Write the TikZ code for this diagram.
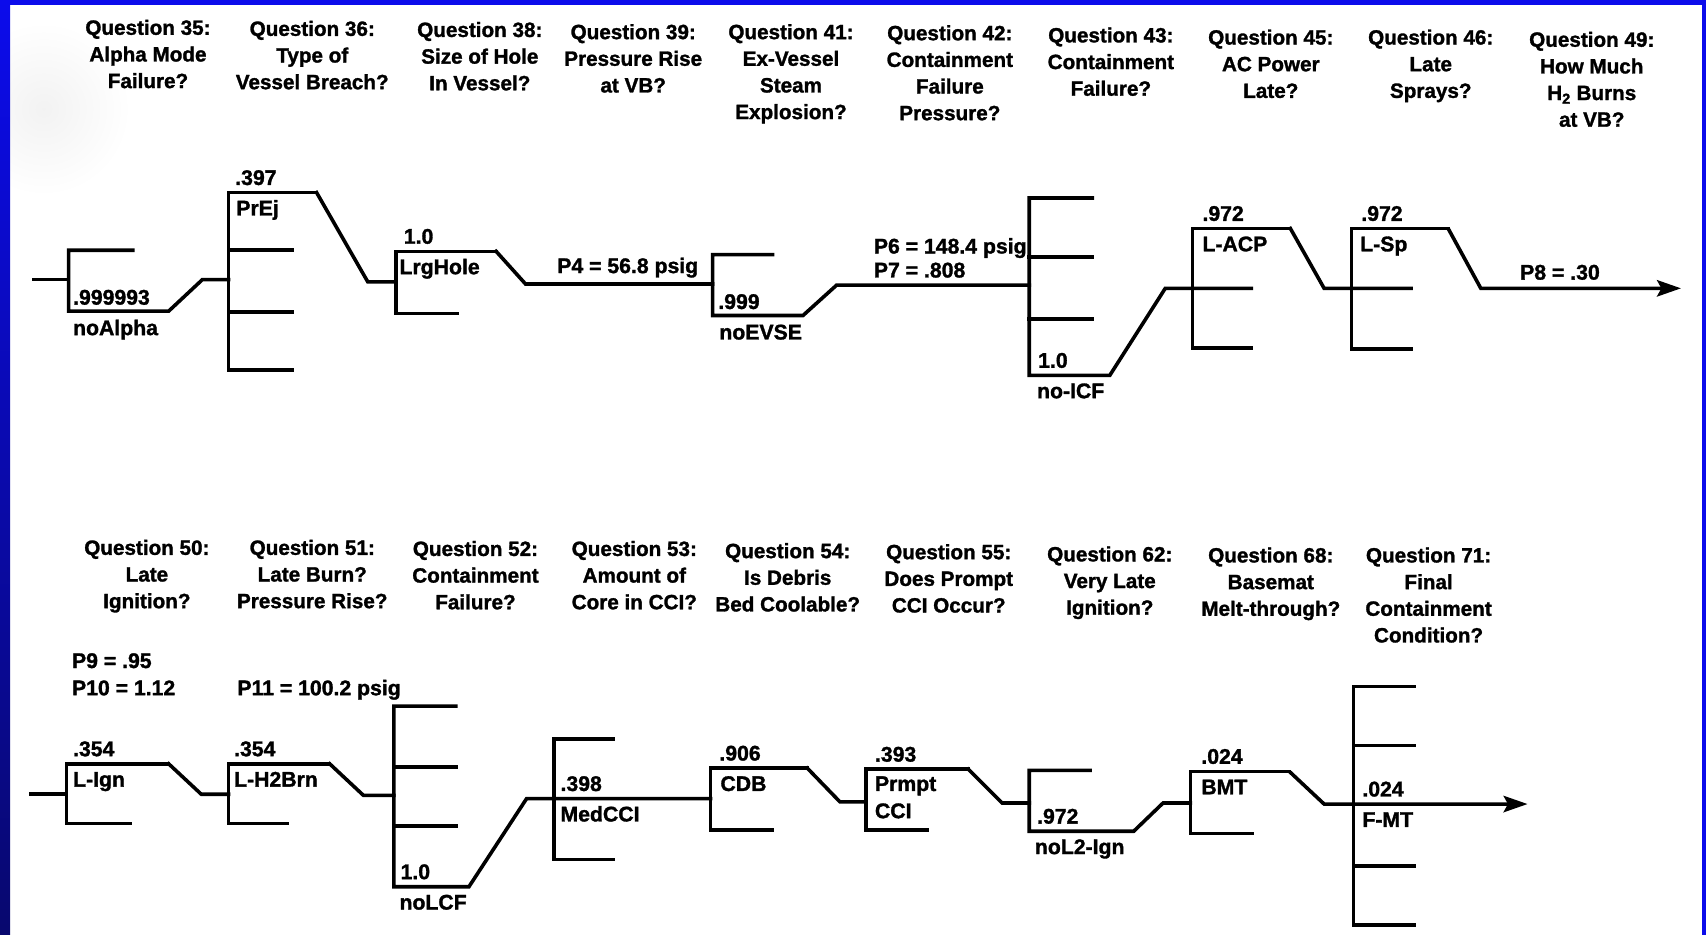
\documentclass[tikz,border=0pt]{standalone}
\usepackage{fontspec}
\setmainfont{Liberation Sans}[BoldFeatures={FakeBold=1.4}]
\usetikzlibrary{arrows.meta}
\definecolor{frameblue}{RGB}{12,12,235}
\definecolor{framenavy}{RGB}{8,8,110}
\begin{document}
\begin{tikzpicture}[x=1pt,y=-1pt,
  tl/.style={line width=3.3pt, line cap=rect, line join=miter},
  arr/.style={line width=3.3pt, line join=miter, -{Stealth[length=22pt,width=15pt,inset=4pt]}},
  hdr/.style={font=\bfseries\fontsize{19}{24.5}\selectfont, align=center, anchor=north, inner sep=0pt},
  lbl/.style={font=\bfseries\fontsize{19.5}{24}\selectfont, anchor=base west, inner sep=0pt}]

\useasboundingbox (0,0) rectangle (1568,859);
\fill[white] (0,0) rectangle (1568,859);
\shade[inner color=black!5, outer color=white] (40,100) circle (80);
\shade[top color=frameblue, bottom color=framenavy] (0,0) rectangle (9.2,859);
\fill[frameblue] (0,0) rectangle (1568,4.8);
\fill[frameblue] (1564,0) rectangle (1568,859);

% ---------------- top row headers
\node[hdr] (h35) at (136,18) {Question 35:\\Alpha Mode\\Failure?};
\node[hdr] (h36) at (287,19) {Question 36:\\Type of\\Vessel Breach?};
\node[hdr] (h38) at (441,20) {Question 38:\\Size of Hole\\In Vessel?};
\node[hdr] (h39) at (582,22) {Question 39:\\Pressure Rise\\at VB?};
\node[hdr] (h41) at (727,22) {Question 41:\\Ex-Vessel\\Steam\\Explosion?};
\node[hdr] (h42) at (873,23) {Question 42:\\Containment\\Failure\\Pressure?};
\node[hdr] (h43) at (1021,25) {Question 43:\\Containment\\Failure?};
\node[hdr] (h45) at (1168,27) {Question 45:\\AC Power\\Late?};
\node[hdr] (h46) at (1315,27) {Question 46:\\Late\\Sprays?};
\node[hdr] (h49) at (1463,29) {Question 49:\\How Much\\H\textsubscript{2} Burns\\at VB?};

% ---------------- top row coordinates
\coordinate (t0) at (31,257);
\coordinate (q35m) at (63,257);
\coordinate (q35t) at (63,230);
\coordinate (q35b) at (63,286);
\coordinate (q35te) at (122,230);
\coordinate (q35be) at (155,286);
\coordinate (k35) at (186,257);
\coordinate (q36m) at (210,257);
\coordinate (q36t) at (210,177);
\coordinate (q36b) at (210,340);
\coordinate (q36k2) at (210,230);
\coordinate (q36k3) at (210,287);
\coordinate (q36te) at (291,177);
\coordinate (q36e2) at (269,230);
\coordinate (q36e3) at (269,287);
\coordinate (q36be) at (269,340);
\coordinate (k36) at (338,259);
\coordinate (q38m) at (364,259);
\coordinate (q38t) at (364,231);
\coordinate (q38b) at (364,288);
\coordinate (q38te) at (456,231);
\coordinate (q38be) at (420,288);
\coordinate (k38) at (483,261);
\coordinate (q41m) at (655,261);
\coordinate (q41t) at (655,234);
\coordinate (q41b) at (655,290);
\coordinate (q41te) at (710,234);
\coordinate (q41be) at (738,290);
\coordinate (k41) at (769,262);
\coordinate (q43m) at (946,262);
\coordinate (q43t) at (946,182);
\coordinate (q43b) at (946,345);
\coordinate (q43k2) at (946,236);
\coordinate (q43k3) at (946,293);
\coordinate (q43te) at (1004,182);
\coordinate (q43e2) at (1004,236);
\coordinate (q43e3) at (1004,293);
\coordinate (q43be) at (1020,345);
\coordinate (k43) at (1071,265);
\coordinate (q45t) at (1096,210);
\coordinate (q45b) at (1096,320);
\coordinate (q45te) at (1186,210);
\coordinate (q45me) at (1150,265);
\coordinate (q45be) at (1150,320);
\coordinate (k45) at (1217,265);
\coordinate (q46t) at (1242,210);
\coordinate (q46b) at (1242,321);
\coordinate (q46te) at (1331,210);
\coordinate (q46me) at (1297,265);
\coordinate (q46be) at (1297,321);
\coordinate (k46) at (1361,265);
\coordinate (tend) at (1545,265);

% ---------------- top row lines
\draw[tl] (t0) -- (q35m);
\draw[tl] (q35te) -- (q35t) -- (q35b) -- (q35be) -- (k35) -- (q36m);
\draw[tl] (q36te) -- (q36t) -- (q36b) -- (q36be);
\draw[tl] (q36k2) -- (q36e2);
\draw[tl] (q36k3) -- (q36e3);
\draw[tl] (q36te) -- (k36) -- (q38m);
\draw[tl] (q38te) -- (q38t) -- (q38b) -- (q38be);
\draw[tl] (q38te) -- (k38) -- (q41m);
\draw[tl] (q41te) -- (q41t) -- (q41b) -- (q41be) -- (k41) -- (q43m);
\draw[tl] (q43te) -- (q43t) -- (q43b) -- (q43be) -- (k43) -- (q45me);
\draw[tl] (q43k2) -- (q43e2);
\draw[tl] (q43k3) -- (q43e3);
\draw[tl] (q45te) -- (q45t) -- (q45b) -- (q45be);
\draw[tl] (q45te) -- (k45) -- (q46me);
\draw[tl] (q46te) -- (q46t) -- (q46b) -- (q46be);
\draw[arr] (q46te) -- (k46) -- (tend);

% ---------------- top row labels
\node[lbl] (l397) at (216,170) {.397};
\node[lbl] (lPrEj) at (217,198) {PrEj};
\node[lbl] (l10a) at (371,224) {1.0};
\node[lbl] (lLrg) at (367,252) {LrgHole};
\node[lbl] (l999993) at (67,280) {.999993};
\node[lbl] (lnoA) at (67,308) {noAlpha};
\node[lbl] (lP4) at (512,251) {P4 = 56.8 psig};
\node[lbl] (l999) at (660,284) {.999};
\node[lbl] (lnoE) at (661,312) {noEVSE};
\node[lbl] (lP6) at (803,233) {P6 = 148.4 psig};
\node[lbl] (lP7) at (803,255) {P7 = .808};
\node[lbl] (l10b) at (954,338) {1.0};
\node[lbl] (lnoI) at (953,366) {no-ICF};
\node[lbl] (l972a) at (1105,203) {.972};
\node[lbl] (lLACP) at (1105,231) {L-ACP};
\node[lbl] (l972b) at (1251,203) {.972};
\node[lbl] (lLSp) at (1250,231) {L-Sp};
\node[lbl] (lP8) at (1397,257) {P8 = .30};

% ---------------- bottom row headers
\node[hdr] (h50) at (135,496) {Question 50:\\Late\\Ignition?};
\node[hdr] (h51) at (287,496) {Question 51:\\Late Burn?\\Pressure Rise?};
\node[hdr] (h52) at (437,497) {Question 52:\\Containment\\Failure?};
\node[hdr] (h53) at (583,497) {Question 53:\\Amount of\\Core in CCI?};
\node[hdr] (h54) at (724,499) {Question 54:\\Is Debris\\Bed Coolable?};
\node[hdr] (h55) at (872,500) {Question 55:\\Does Prompt\\CCI Occur?};
\node[hdr] (h62) at (1020,502) {Question 62:\\Very Late\\Ignition?};
\node[hdr] (h68) at (1168,503) {Question 68:\\Basemat\\Melt-through?};
\node[hdr] (h71) at (1313,503) {Question 71:\\Final\\Containment\\Condition?};

% ---------------- bottom row coordinates
\coordinate (b0) at (28,730);
\coordinate (q50m) at (61,730);
\coordinate (q50t) at (61,702);
\coordinate (q50b) at (61,757);
\coordinate (q50te) at (155,702);
\coordinate (q50be) at (120,757);
\coordinate (k50) at (185,730);
\coordinate (q51m) at (210,730);
\coordinate (q51t) at (210,702);
\coordinate (q51b) at (210,757);
\coordinate (q51te) at (303,702);
\coordinate (q51be) at (264,757);
\coordinate (k51) at (334,731);
\coordinate (q52m) at (362,731);
\coordinate (q52t) at (362,649);
\coordinate (q52b) at (362,815);
\coordinate (q52k2) at (362,705);
\coordinate (q52k3) at (362,759);
\coordinate (q52te) at (419,649);
\coordinate (q52e2) at (419,705);
\coordinate (q52e3) at (419,759);
\coordinate (q52be) at (431,815);
\coordinate (k52) at (484,734);
\coordinate (q53t) at (509,679);
\coordinate (q53b) at (509,790);
\coordinate (q53te) at (564,679);
\coordinate (q53be) at (564,790);
\coordinate (q54m) at (653,734);
\coordinate (q54t) at (653,706);
\coordinate (q54b) at (653,763);
\coordinate (q54te) at (742,706);
\coordinate (q54be) at (710,763);
\coordinate (k54) at (772,737);
\coordinate (q55m) at (796,737);
\coordinate (q55t) at (796,707);
\coordinate (q55b) at (796,763);
\coordinate (q55te) at (890,707);
\coordinate (q55be) at (852,763);
\coordinate (k55) at (921,738);
\coordinate (q62m) at (946,738);
\coordinate (q62t) at (946,708);
\coordinate (q62b) at (946,764);
\coordinate (q62te) at (1002,708);
\coordinate (q62be) at (1042,764);
\coordinate (k62) at (1069,738);
\coordinate (q68m) at (1094,738);
\coordinate (q68t) at (1094,709);
\coordinate (q68b) at (1094,766);
\coordinate (q68te) at (1185,709);
\coordinate (q68be) at (1151,766);
\coordinate (k68) at (1217,739);
\coordinate (q71t) at (1244,631);
\coordinate (q71b) at (1244,850);
\coordinate (q71k2) at (1244,685);
\coordinate (q71k4) at (1244,796);
\coordinate (q71te) at (1300,631);
\coordinate (q71e2) at (1300,685);
\coordinate (q71e4) at (1300,796);
\coordinate (q71be) at (1300,850);
\coordinate (bend) at (1404,739);

% ---------------- bottom row lines
\draw[tl] (b0) -- (q50m);
\draw[tl] (q50te) -- (q50t) -- (q50b) -- (q50be);
\draw[tl] (q50te) -- (k50) -- (q51m);
\draw[tl] (q51te) -- (q51t) -- (q51b) -- (q51be);
\draw[tl] (q51te) -- (k51) -- (q52m);
\draw[tl] (q52te) -- (q52t) -- (q52b) -- (q52be) -- (k52) -- (q54m);
\draw[tl] (q52k2) -- (q52e2);
\draw[tl] (q52k3) -- (q52e3);
\draw[tl] (q53te) -- (q53t) -- (q53b) -- (q53be);
\draw[tl] (q54te) -- (q54t) -- (q54b) -- (q54be);
\draw[tl] (q54te) -- (k54) -- (q55m);
\draw[tl] (q55te) -- (q55t) -- (q55b) -- (q55be);
\draw[tl] (q55te) -- (k55) -- (q62m);
\draw[tl] (q62te) -- (q62t) -- (q62b) -- (q62be) -- (k62) -- (q68m);
\draw[tl] (q68te) -- (q68t) -- (q68b) -- (q68be);
\draw[tl] (q71te) -- (q71t) -- (q71b) -- (q71be);
\draw[tl] (q71k2) -- (q71e2);
\draw[tl] (q71k4) -- (q71e4);
\draw[arr] (q68te) -- (k68) -- (bend);

% ---------------- bottom row labels
\node[lbl] (lP9) at (66,614) {P9 = .95};
\node[lbl] (lP10) at (66,639) {P10 = 1.12};
\node[lbl] (lP11) at (218,639) {P11 = 100.2 psig};
\node[lbl] (l354a) at (67,695) {.354};
\node[lbl] (lLIgn) at (67,723) {L-Ign};
\node[lbl] (l354b) at (215,695) {.354};
\node[lbl] (lLH2) at (215,723) {L-H2Brn};
\node[lbl] (l10c) at (368,808) {1.0};
\node[lbl] (lnoL) at (367,836) {noLCF};
\node[lbl] (l398) at (515,727) {.398};
\node[lbl] (lMed) at (515,755) {MedCCI};
\node[lbl] (l906) at (661,699) {.906};
\node[lbl] (lCDB) at (662,727) {CDB};
\node[lbl] (l393) at (804,700) {.393};
\node[lbl] (lPr) at (804,727) {Prmpt};
\node[lbl] (lCCI) at (804,752) {CCI};
\node[lbl] (l972c) at (953,757) {.972};
\node[lbl] (lnoL2) at (951,785) {noL2-Ign};
\node[lbl] (l024a) at (1104,702) {.024};
\node[lbl] (lBMT) at (1104,730) {BMT};
\node[lbl] (l024b) at (1252,732) {.024};
\node[lbl] (lFMT) at (1252,760) {F-MT};
\end{tikzpicture}
\end{document}
